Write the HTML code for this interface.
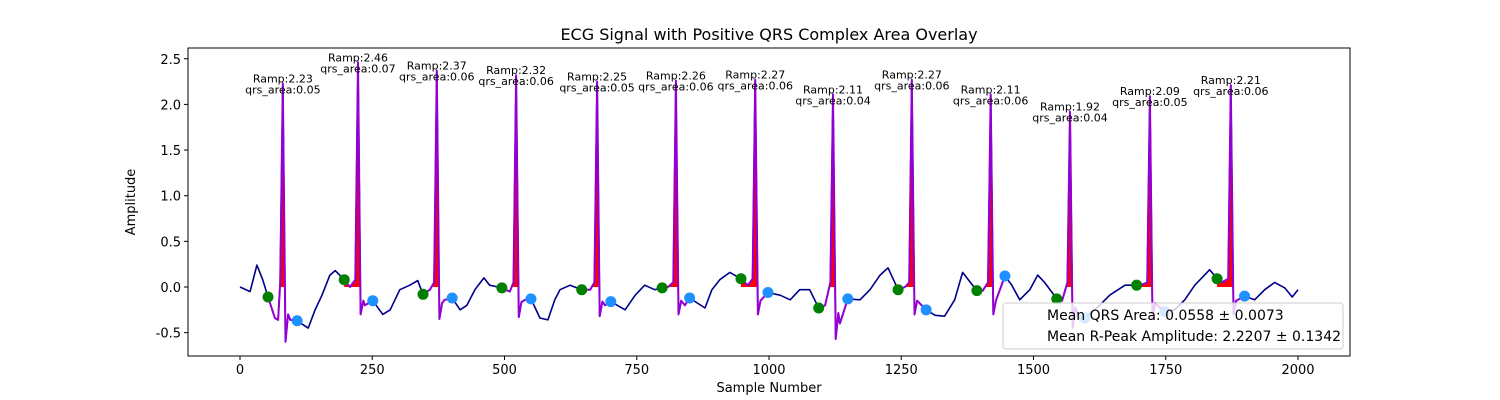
<!DOCTYPE html>
<html><head><meta charset="utf-8"><style>
html,body{margin:0;padding:0;background:#fff;width:1500px;height:400px;overflow:hidden;}
svg{display:block;font-family:"DejaVu Sans","Liberation Sans",sans-serif;}
</style></head><body>
<svg id="c" width="1500" height="400" xmlns="http://www.w3.org/2000/svg"></svg>
<script>
// ---- data ----
const baseKnots = [[0,0],[19,-0.05],[32,0.24],[43,0.08],[66,-0.34],[72,-0.36],[95,-0.36],[129,-0.45],[142,-0.25],[155,-0.09],[170,0.13],[180,0.18],[208,0],
[236,-0.2],[270,-0.3],[284,-0.25],[302,-0.03],[321,0.02],[336,0.07],[359,-0.03],
[387,-0.14],[416,-0.25],[429,-0.2],[444,-0.03],[461,0.1],[472,0.02],[510,-0.05],
[539,-0.14],[567,-0.34],[582,-0.36],[595,-0.14],[605,-0.03],[624,0.02],[662,-0.03],
[690,-0.2],[728,-0.25],[747,-0.09],[765,0.02],[784,-0.03],[809,0],
[841,-0.2],[879,-0.23],[892,-0.03],[907,0.08],[926,0.16],[960,0.02],
[1021,-0.09],[1040,-0.14],[1058,-0.03],[1077,-0.03],[1106,-0.2],
[1134,-0.4],[1172,-0.14],[1191,-0.03],[1210,0.13],[1225,0.21],[1257,0],
[1314,-0.31],[1332,-0.32],[1351,-0.14],[1366,0.16],[1404,-0.04],
[1459,0.02],[1474,-0.14],[1493,-0.03],[1508,0.13],[1521,0.05],[1554,-0.15],
[1588,-0.36],[1625,-0.2],[1644,-0.09],[1673,0.02],[1707,0.03],
[1767,-0.25],[1786,-0.14],[1805,0.02],[1833,0.19],[1856,0.05],
[1918,-0.14],[1937,-0.03],[1956,0.05],[1975,-0.01],[1989,-0.11],[2000,-0.03]];
const peakSamples = [81,223,372,522,675,824,974,1121,1270,1419,1569,1720,1873];
const peakAmps = [2.23,2.46,2.37,2.32,2.25,2.26,2.27,2.11,2.27,2.11,1.92,2.09,2.21];
const qrsAreas = [0.05,0.07,0.06,0.06,0.05,0.06,0.06,0.04,0.06,0.06,0.04,0.05,0.06];
const sDepth = [-0.6,-0.3,-0.35,-0.33,-0.32,-0.3,-0.3,-0.57,-0.3,-0.3,-0.45,-0.35,-0.3];
const onsetSamples = [53,197,346,495,646,798,947,1094,1244,1393,1544,1695,1847];
const onsetAmps = [-0.11,0.08,-0.08,-0.01,-0.03,-0.01,0.09,-0.23,-0.03,-0.04,-0.13,0.02,0.09];
const offsetSamples = [108,251,401,550,701,850,998,1149,1297,1446,1597,1748,1899];
const offsetAmps = [-0.37,-0.15,-0.12,-0.13,-0.16,-0.12,-0.06,-0.13,-0.25,0.12,-0.34,-0.27,-0.1];
const xTicks = [0,250,500,750,1000,1250,1500,1750,2000];
const yTicks = [-0.5,0,0.5,1.0,1.5,2.0,2.5];

// ---- axes ----
const L=188,R=1350,T=48,B=356;
const X=s=>240+s*(1298-240)/2000;
const Y=v=>287-v*91.3;
const svg=document.getElementById('c');
const NS='http://www.w3.org/2000/svg';
function mk(tag,attrs,parent){const e=document.createElementNS(NS,tag);for(const k in attrs)e.setAttribute(k,attrs[k]);(parent||svg).appendChild(e);return e;}

let pts=baseKnots.map(p=>[p[0],p[1]]);
peakSamples.forEach((p,i)=>{
  pts.push([onsetSamples[i],onsetAmps[i]]);
  pts.push([p-5,Math.max(onsetAmps[i],0.05)]);
  pts.push([p,peakAmps[i]]);
  pts.push([p+5,sDepth[i]]);
  pts.push([p+10,sDepth[i]*0.5]);
  pts.push([offsetSamples[i],offsetAmps[i]]);
});
pts.sort((a,b)=>a[0]-b[0]);
const interp=s=>{for(let k=1;k<pts.length;k++){if(pts[k][0]>=s){const a=pts[k-1],b=pts[k];const t=(s-a[0])/((b[0]-a[0])||1);return a[1]+t*(b[1]-a[1]);}}return pts[pts.length-1][1];};

const gFill=mk('g',{});


peakSamples.forEach((p,i)=>{
  let d='M'+X(onsetSamples[i])+','+Y(0);
  for(let s=onsetSamples[i];s<=p+4;s+=0.5){d+=' L'+X(s)+','+Y(Math.max(interp(s),0));}
  d+=' L'+X(p+4)+','+Y(0)+'Z';
  const e=mk('path',{d:d,fill:'#ff0000',stroke:'none'},gFill);
  
  
});

let d='';pts.forEach((p,k)=>{d+=(k?'L':'M')+X(p[0]).toFixed(1)+','+Y(p[1]).toFixed(1);});
const line=mk('path',{d:d,fill:'none',stroke:'#00008b','stroke-width':1.6,'stroke-linejoin':'round'});



peakSamples.forEach((p,i)=>{
  const seg=pts.filter(q=>q[0]>=onsetSamples[i]&&q[0]<=offsetSamples[i]);
  let dd='';seg.forEach((q,k)=>{dd+=(k?'L':'M')+X(q[0]).toFixed(1)+','+Y(q[1]).toFixed(1);});
  const e=mk('path',{d:dd,fill:'none',stroke:'#9400d3','stroke-width':2,'stroke-linejoin':'round'});
  
  
});

peakSamples.forEach((p,i)=>{
  const g=mk('circle',{cx:X(onsetSamples[i]),cy:Y(onsetAmps[i]),r:5.5,fill:'#008000'});
  
  
  const b=mk('circle',{cx:X(offsetSamples[i]),cy:Y(offsetAmps[i]),r:5.5,fill:'#1e90ff'});
  
  
  const py=Y(peakAmps[i]);
  const t1=mk('text',{x:X(p),y:py-1,'font-size':11,'text-anchor':'middle',fill:'#000'});
  t1.textContent='Ramp:'+peakAmps[i].toFixed(2);
  
  
  const t2=mk('text',{x:X(p),y:py+10,'font-size':11,'text-anchor':'middle',fill:'#000'});
  t2.textContent='qrs_area:'+qrsAreas[i].toFixed(2);
  
  
});

const fr=mk('rect',{x:L,y:T,width:R-L,height:B-T,fill:'none',stroke:'#000','stroke-width':1});



xTicks.forEach(v=>{
  const l=mk('line',{x1:X(v),x2:X(v),y1:B,y2:B+4,stroke:'#000'});
  
  
  const t=mk('text',{x:X(v),y:B+18,'font-size':13,'text-anchor':'middle'});
  t.textContent=v;
  
  
});
yTicks.forEach(v=>{
  const l=mk('line',{x1:L-4,x2:L,y1:Y(v),y2:Y(v),stroke:'#000'});
  
  
  const t=mk('text',{x:L-7,y:Y(v)+5,'font-size':13,'text-anchor':'end'});
  t.textContent=v.toFixed(1);
  
  
});

const lg=mk('g',{});


mk('rect',{x:1003,y:303,width:340,height:46,rx:3,fill:'#fff','fill-opacity':0.8,stroke:'#ccc'},lg);
const l1=mk('text',{x:1047,y:320,'font-size':14},lg);l1.textContent='Mean QRS Area: 0.0558 ± 0.0073';


const l2=mk('text',{x:1047,y:341,'font-size':14},lg);l2.textContent='Mean R-Peak Amplitude: 2.2207 ± 0.1342';



const tt=mk('text',{x:769,y:40,'font-size':16,'text-anchor':'middle'});
tt.textContent='ECG Signal with Positive QRS Complex Area Overlay';


const xt=mk('text',{x:769,y:392,'font-size':13,'text-anchor':'middle'});
xt.textContent='Sample Number';


const yt=mk('text',{x:0,y:0,'font-size':13,'text-anchor':'middle',transform:'translate(135,202) rotate(-90)'});
yt.textContent='Amplitude';


</script>
</body></html>
